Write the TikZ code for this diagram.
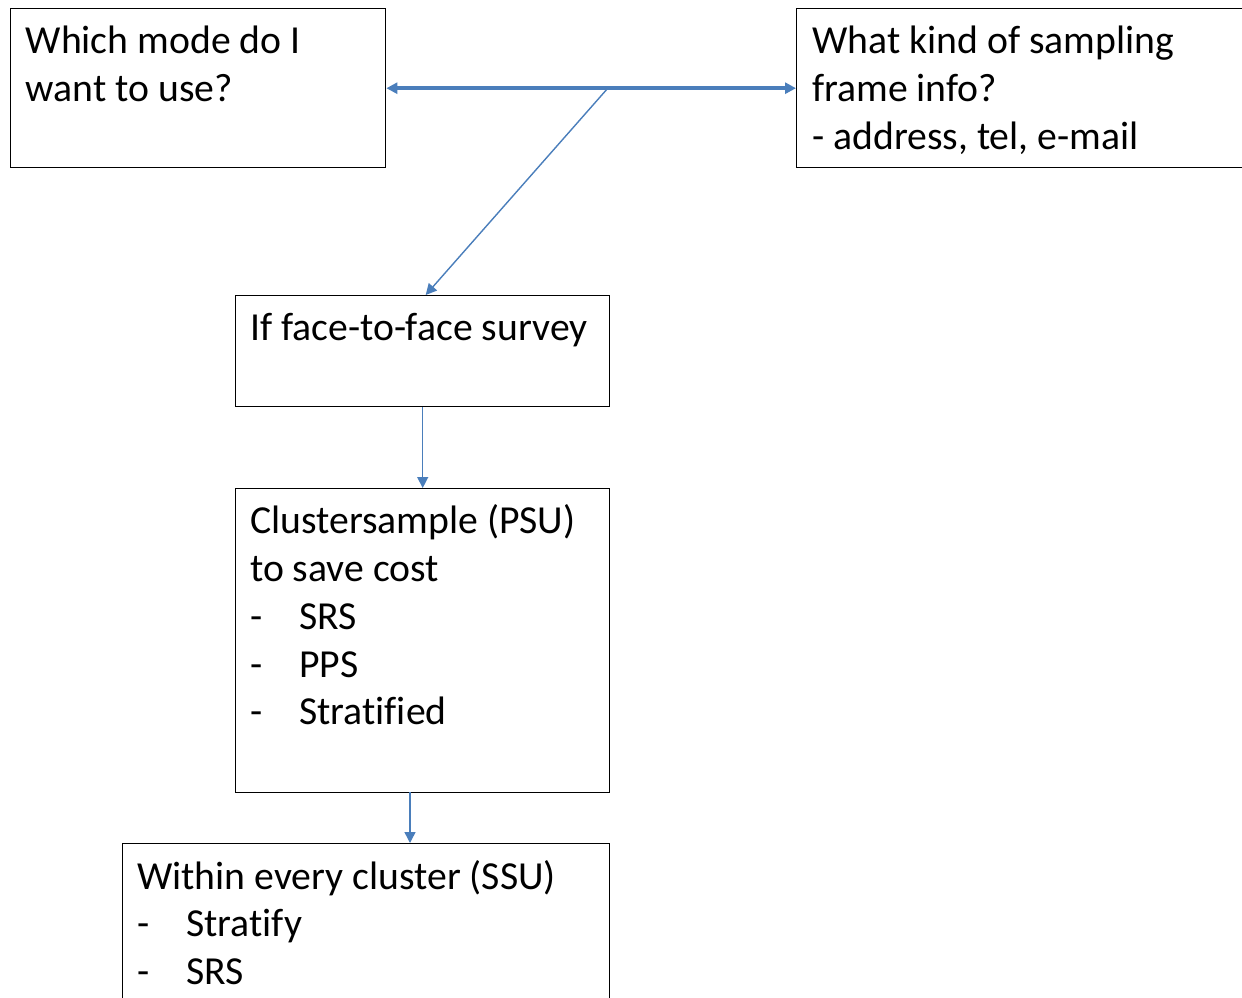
\documentclass[tikz,border=0pt]{standalone}
\usepackage{fontspec}
\setmainfont{Carlito}[RawFeature={-liga;-clig;-dlig}]
\usetikzlibrary{arrows.meta,calc}
\definecolor{arrowblue}{HTML}{4A7EBB}
\tikzset{
  box/.style={draw=black, line width=1.4pt, inner sep=0pt, anchor=north west},
  txt/.style={inner sep=0pt, anchor=north west, align=left, font=\fontsize{39.7}{47.7}\selectfont},
  thin arrow/.style={draw=arrowblue, line width=1.4pt, -{Triangle[length=11pt,width=11pt]}},
  thick arrow/.style={draw=arrowblue, line width=3.6pt, {Triangle[length=11pt,width=11pt]}-{Triangle[length=11pt,width=11pt]}},
}
\newcommand{\dashitem}[1]{\makebox[49pt][l]{-}#1}
\begin{document}
\begin{tikzpicture}[x=1pt,y=-1pt]
\useasboundingbox (0,0) rectangle (1242,998);
\clip (0,0) rectangle (1242,998);
% boxes
\node[box, minimum width=375pt, minimum height=159pt] (b1) at (10,8) {};
\node[box, minimum width=470pt, minimum height=159pt] (b2) at (796,8) {};
\node[box, minimum width=374pt, minimum height=111pt] (b3) at (235,295) {};
\node[box, minimum width=374pt, minimum height=304pt] (b4) at (235,488) {};
\node[box, minimum width=487pt, minimum height=180pt] (b5) at (122,843) {};
% texts
\node[txt] (t1) at ($(b1.north west)+(15.5,12.4)$) {\strut Which mode do I\\want to use?};
\node[txt] (t2) at ($(b2.north west)+(16,12.4)$) {\strut What kind of sampling\\frame info?\\- address, tel, e-mail};
\node[txt] (t3) at ($(b3.north west)+(15,12.4)$) {\strut If face-to-face survey};
\node[txt] (t4) at ($(b4.north west)+(15,12.4)$) {\strut Clustersample (PSU)\\to save cost\\\dashitem{SRS}\\\dashitem{PPS}\\\dashitem{Stratified}};
\node[txt] (t5) at ($(b5.north west)+(15,12.4)$) {\strut Within every cluster (SSU)\\\dashitem{Stratify}\\\dashitem{SRS}};
% connectors
\draw[thick arrow] (b1.east) -- (b2.west);
\coordinate (j) at (608,88);
\draw[thin arrow] (j) -- ($(b3.north)+(3,0)$);
\draw[thin arrow] (b3.south) -- (b4.north);
\coordinate (c4) at (410,792);
\draw[thin arrow] (c4) -- (c4 |- b5.north);
\end{tikzpicture}
\end{document}
